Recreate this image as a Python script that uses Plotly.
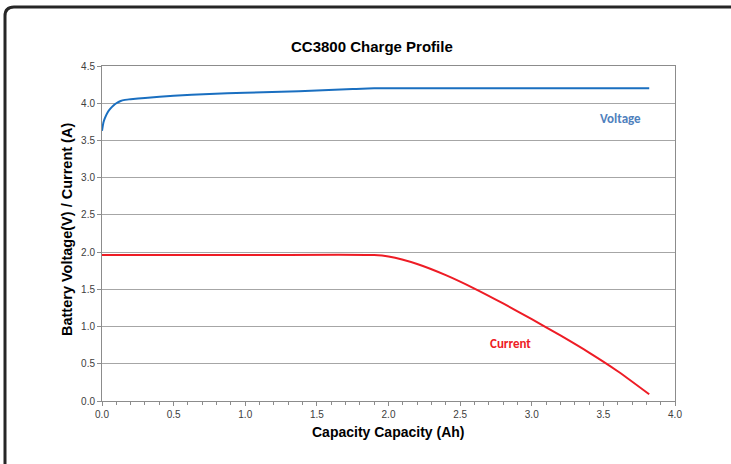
import plotly.graph_objects as go

voltage_x = [0.0, 0.01, 0.02, 0.04, 0.06, 0.08, 0.10, 0.13, 0.16, 0.20, 0.30, 0.50, 0.75, 1.00, 1.25, 1.50, 1.75, 1.90, 2.50, 3.00, 3.50, 3.82]
voltage_y = [3.63, 3.74, 3.80, 3.88, 3.93, 3.97, 4.00, 4.03, 4.045, 4.055, 4.07, 4.10, 4.125, 4.14, 4.155, 4.17, 4.19, 4.20, 4.20, 4.20, 4.20, 4.20]

current_x = [0.0, 1.00, 1.90, 2.00, 2.20, 2.40, 2.60, 2.80, 3.00, 3.20, 3.40, 3.60, 3.82]
current_y = [1.96, 1.96, 1.96, 1.94, 1.84, 1.69, 1.51, 1.31, 1.10, 0.88, 0.65, 0.40, 0.09]

title_text = "CC3800 Charge Profile"
x_title = "Capacity Capacity (Ah)"
y_title = "Battery Voltage(V) / Current (A)"

W, H = 731, 464
L, R, T, B = 102, 675, 66, 401

def px(x):
    return (x - L) / (R - L)

def py(y):
    return (B - y) / (B - T)

fig = go.Figure()
fig.add_trace(go.Scatter(x=voltage_x, y=voltage_y, mode="lines",
                         line=dict(color="#1a6fc0", width=2, shape="spline", smoothing=0.5), showlegend=False))
fig.add_trace(go.Scatter(x=current_x, y=current_y, mode="lines",
                         line=dict(color="#ee1c25", width=2, shape="spline", smoothing=0.8), showlegend=False))

axis_common = dict(
    showline=True, linecolor="#8c8c8c", linewidth=1, mirror=True,
    gridcolor="#a6a6a6", gridwidth=1, zeroline=False,
    tickfont=dict(family="Liberation Sans, Arial", size=10, color="#404040"),
    ticks="outside", ticklen=4, tickcolor="#8c8c8c",
)
fig.update_xaxes(range=[0, 4], dtick=0.5, tickformat=".1f", showgrid=False,
                 minor=dict(dtick=0.1, ticks="outside", ticklen=3, tickcolor="#8c8c8c"),
                 **axis_common)
fig.update_yaxes(range=[0, 4.5], dtick=0.5, tickformat=".1f", showgrid=True, **axis_common)

# outer rounded border
r = 9
x0, y0 = px(5), py(7)
x1, y1 = px(760), py(500)
rx = r / (R - L)
ry = r / (B - T)
path = (f"M {x0},{y1} L {x0},{y0 - ry} Q {x0},{y0} {x0 + rx},{y0} L {x1},{y0}")
fig.add_shape(type="path", path=path, xref="paper", yref="paper",
              line=dict(color="#262626", width=3))

def ann(text, x, y, size, color, family="Liberation Sans, Arial", angle=0):
    fig.add_annotation(text=text, x=px(x), y=py(y), xref="paper", yref="paper",
                       xanchor="center", yanchor="middle", showarrow=False, textangle=angle,
                       font=dict(family=family, size=size, color=color))

ann(f"<b>{title_text}</b>", 372, 46, 15, "#000000")
ann(f"<b>{x_title}</b>", 388, 432, 14, "#000000")
ann(f"<b>{y_title}</b>", 67, 230, 14.5, "#000000", angle=-90)
ann("<b>Voltage</b>", 620, 119, 13, "#4f81bd", family="Carlito, Open Sans, Arial")
ann("<b>Current</b>", 510, 343, 13, "#ee1c25", family="Carlito, Open Sans, Arial")

fig.update_layout(
    width=W, height=H, autosize=False,
    margin=dict(l=L, r=W - R, t=T, b=H - B),
    paper_bgcolor="white", plot_bgcolor="white",
)
fig.write_html("out.html", config={"displayModeBar": False},
               post_script="document.body.style.margin='0';")
